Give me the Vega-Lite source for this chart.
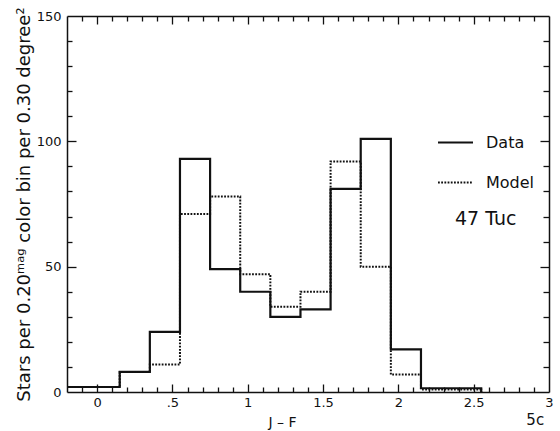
{
  "$schema": "https://vega.github.io/schema/vega-lite/v6.json",
  "autosize": "none",
  "width": 482,
  "height": 376,
  "padding": {"left": 67, "top": 16, "right": 11, "bottom": 39},
  "background": "white",
  "config": {
    "view": {"stroke": null},
    "axis": {"grid": false, "domainColor": "#111", "tickColor": "#111", "labelColor": "#111", "titleColor": "#111", "labelFont": "DejaVu Sans", "titleFont": "DejaVu Sans", "titleFontWeight": "normal"}
  },
  "title": {"text": "5c", "orient": "bottom", "anchor": "end", "fontSize": 15, "font": "DejaVu Sans", "fontWeight": "normal", "color": "#111", "offset": -16, "dx": -9, "baseline": "top"},
  "datasets": {
    "hist": [
      {"series": "Data", "x": -0.25, "y": 2},
      {"series": "Data", "x": -0.05, "y": 2},
      {"series": "Data", "x": 0.15, "y": 8},
      {"series": "Data", "x": 0.35, "y": 24},
      {"series": "Data", "x": 0.55, "y": 93},
      {"series": "Data", "x": 0.75, "y": 49},
      {"series": "Data", "x": 0.95, "y": 40},
      {"series": "Data", "x": 1.15, "y": 30},
      {"series": "Data", "x": 1.35, "y": 33},
      {"series": "Data", "x": 1.55, "y": 81},
      {"series": "Data", "x": 1.75, "y": 101},
      {"series": "Data", "x": 1.95, "y": 17},
      {"series": "Data", "x": 2.15, "y": 1.5},
      {"series": "Data", "x": 2.35, "y": 1.5},
      {"series": "Data", "x": 2.55, "y": 0},
      {"series": "Model", "x": -0.25, "y": 2},
      {"series": "Model", "x": -0.05, "y": 2},
      {"series": "Model", "x": 0.15, "y": 8},
      {"series": "Model", "x": 0.35, "y": 11},
      {"series": "Model", "x": 0.55, "y": 71},
      {"series": "Model", "x": 0.75, "y": 78},
      {"series": "Model", "x": 0.95, "y": 47},
      {"series": "Model", "x": 1.15, "y": 34},
      {"series": "Model", "x": 1.35, "y": 40},
      {"series": "Model", "x": 1.55, "y": 92},
      {"series": "Model", "x": 1.75, "y": 50},
      {"series": "Model", "x": 1.95, "y": 7},
      {"series": "Model", "x": 2.15, "y": 1},
      {"series": "Model", "x": 2.35, "y": 1},
      {"series": "Model", "x": 2.55, "y": 0}
    ]
  },
  "layer": [
    {
      "data": {"name": "hist"},
      "transform": [{"filter": "datum.series === 'Data'"}],
      "mark": {"type": "line", "interpolate": "step-after", "color": "#111", "strokeWidth": 2.2, "clip": true},
      "encoding": {
        "x": {"field": "x", "type": "quantitative", "scale": {"domain": [-0.2, 3], "nice": false, "zero": false},
          "axis": {"orient": "bottom", "values": [-0.1,0,0.1,0.2,0.3,0.4,0.5,0.6,0.7,0.8,0.9,1,1.1,1.2,1.3,1.4,1.5,1.6,1.7,1.8,1.9,2,2.1,2.2,2.3,2.4,2.5,2.6,2.7,2.8,2.9],
            "labels": false, "title": null, "domainWidth": 1.5, "tickWidth": 1.3,
            "tickSize": {"condition": {"test": "abs(datum.value*2-round(datum.value*2))<0.001", "value": -8}, "value": -5}}},
        "y": {"field": "y", "type": "quantitative", "scale": {"domain": [0, 150], "nice": false, "zero": true},
          "axis": {"orient": "left", "values": [10,20,30,40,50,60,70,80,90,100,110,120,130,140],
            "labels": false, "title": null, "domainWidth": 1.5, "tickWidth": 1.3,
            "tickSize": {"condition": {"test": "datum.value % 50 === 0", "value": -9}, "value": -5}}},
        "strokeDash": {"field": "series", "type": "nominal",
          "scale": {"domain": ["Data", "Model"], "range": [[1, 0], [1.8, 1.4]]},
          "legend": {"title": null, "orient": "none", "legendX": 370, "legendY": 108, "symbolType": "stroke", "symbolSize": 1225, "symbolStrokeWidth": 2, "symbolStrokeColor": "#111", "labelFont": "DejaVu Sans", "labelFontSize": 16, "labelColor": "#111", "labelOffset": 12, "rowPadding": 13, "padding": 0}}
      }
    },
    {
      "data": {"name": "hist"},
      "transform": [{"filter": "datum.series === 'Model'"}],
      "mark": {"type": "line", "interpolate": "step-after", "color": "#111", "strokeWidth": 2, "clip": true},
      "encoding": {
        "x": {"field": "x", "type": "quantitative", "scale": {"domain": [-0.2, 3], "nice": false, "zero": false},
          "axis": {"orient": "top", "values": [-0.1,0,0.1,0.2,0.3,0.4,0.5,0.6,0.7,0.8,0.9,1,1.1,1.2,1.3,1.4,1.5,1.6,1.7,1.8,1.9,2,2.1,2.2,2.3,2.4,2.5,2.6,2.7,2.8,2.9],
            "labels": false, "title": null, "domainWidth": 1.5, "tickWidth": 1.3,
            "tickSize": {"condition": {"test": "abs(datum.value*2-round(datum.value*2))<0.001", "value": -8}, "value": -5}}},
        "y": {"field": "y", "type": "quantitative", "scale": {"domain": [0, 150], "nice": false, "zero": true},
          "axis": {"orient": "right", "values": [10,20,30,40,50,60,70,80,90,100,110,120,130,140],
            "labels": false, "title": null, "domainWidth": 1.5, "tickWidth": 1.3,
            "tickSize": {"condition": {"test": "datum.value % 50 === 0", "value": -9}, "value": -6}}},
        "strokeDash": {"field": "series", "type": "nominal",
          "scale": {"domain": ["Data", "Model"], "range": [[1, 0], [1.8, 1.4]]}}
      }
    },
    {
      "data": {"values": [{"label": "47 Tuc"}]},
      "mark": {"type": "text", "font": "DejaVu Sans", "fontSize": 19, "color": "#111", "align": "center", "baseline": "middle"},
      "encoding": {
        "text": {"field": "label"},
        "x": {"datum": 2.58, "type": "quantitative", "scale": {"domain": [-0.2, 3], "nice": false, "zero": false},
          "axis": {"orient": "bottom", "values": [0, 0.5, 1, 1.5, 2, 2.5, 3], "ticks": false, "domain": false,
            "labelExpr": "datum.value === 0.5 ? '.5' : '' + datum.value", "labelFontSize": 13, "labelPadding": 4, "labelFlush": false,
            "title": "J – F", "titleFontSize": 14, "titlePadding": 6, "titleX": 215, "titleAlign": "center", "titleAnchor": "middle"}},
        "y": {"datum": 69, "type": "quantitative", "scale": {"domain": [0, 150], "nice": false, "zero": true},
          "axis": {"orient": "left", "values": [0, 50, 100, 150], "ticks": false, "domain": false,
            "labelFontSize": 13, "labelPadding": 6, "labelFlush": false,
            "title": "Stars per 0.20ᵐᵃᵍ color bin per 0.30 degree²", "titleFontSize": 18, "titlePadding": 3}}
      }
    }
  ],
  "resolve": {"axis": {"x": "independent", "y": "independent"}}
}
